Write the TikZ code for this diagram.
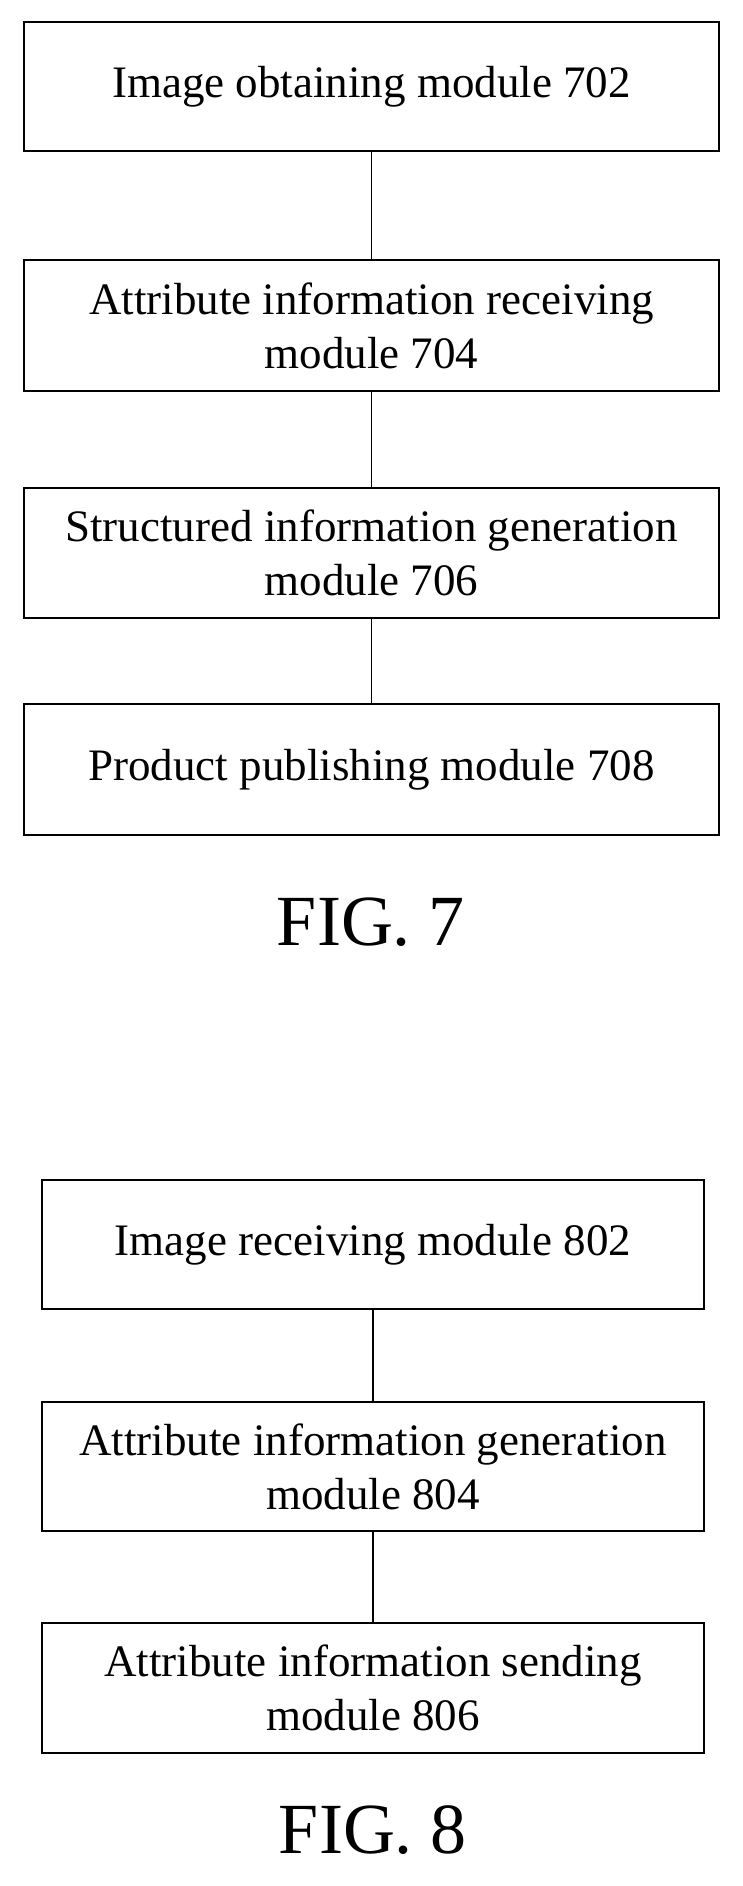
\documentclass[tikz,border=0pt]{standalone}
\usepackage{fontspec}
\setmainfont{Liberation Serif}
\begin{document}
\begin{tikzpicture}[x=1pt,y=-1pt,
  box/.style={draw,line width=1.6pt,inner sep=0pt,align=center,font=\fontsize{45}{54}\selectfont},
  link/.style={line width=1.6pt},
  figcap/.style={font=\fontsize{72}{80}\selectfont}]
\useasboundingbox (0,0) rectangle (743,1886);
\node[box,minimum width=695pt,minimum height=129pt] (a) at (371.5,86.5) {Image obtaining module 702};
\node[box,minimum width=695pt,minimum height=131pt] (b) at (371.5,325.5) {Attribute information receiving\\module 704};
\node[box,minimum width=695pt,minimum height=130pt] (c) at (371.5,553) {Structured information generation\\module 706};
\node[box,minimum width=695pt,minimum height=131pt] (d) at (371.5,769.5) {Product publishing module 708};
\node[figcap] (f7) at (371,922) {FIG. 7};
\draw[link] (a) -- (b);
\draw[link] (b) -- (c);
\draw[link] (c) -- (d);
\node[box,minimum width=662pt,minimum height=129pt] (e) at (373,1244.5) {Image receiving module 802};
\node[box,minimum width=662pt,minimum height=129pt] (f) at (373,1466.5) {Attribute information generation\\module 804};
\node[box,minimum width=662pt,minimum height=130pt] (g) at (373,1688) {Attribute information sending\\module 806};
\node[figcap] (f8) at (373,1830) {FIG. 8};
\draw[link] (e) -- (f);
\draw[link] (f) -- (g);
\end{tikzpicture}
\end{document}
